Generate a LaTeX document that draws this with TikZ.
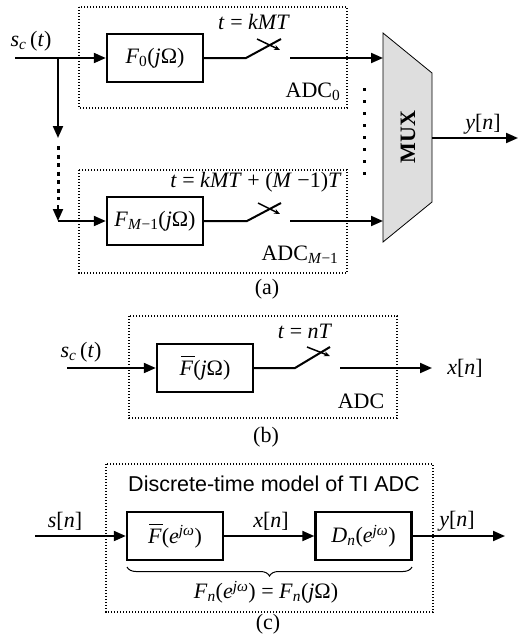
\documentclass[tikz,border=0pt]{standalone}
\usepackage{fontspec}
\setmainfont{Liberation Serif}
\newfontfamily\titlesans{Liberation Sans}
\usetikzlibrary{arrows.meta,decorations.pathreplacing}

% italic symbols and indices set in the text face
\newcommand\itx[1]{\textit{#1}}
\newcommand\lsub[1]{\textsubscript{#1}}
\newcommand\lsup[1]{\textsuperscript{#1}}
% F with a bar on top
\newcommand\barF{\makebox[0pt][l]{\hspace{0.06em}\raisebox{0.8em}{\rule{0.62em}{0.05em}}}\textit{F}}

\tikzset{
  blk/.style={draw, line width=2.4pt, minimum width=96pt, minimum height=48pt, inner sep=0pt},
  sig/.style={line width=2pt},
  arr/.style={line width=2pt, -{Triangle[length=12pt,width=10pt]}},
  dotbox/.style={line width=1.2pt, dash pattern=on 1.3pt off 1.7pt},
  bigdots/.style={line width=3pt, dash pattern=on 4pt off 4.5pt},
  crossmark/.style={line width=1.5pt, -{Stealth[length=6pt,width=5pt]}},
  lbl/.style={inner sep=0pt},
}

\begin{document}
\begin{tikzpicture}[x=1pt, y=-1pt, font=\fontsize{22}{26}\selectfont]
\useasboundingbox (0,0) rectangle (519,643);

% ---------------- (a) time-interleaved ADC ----------------
% dotted frames of the sub-converters
\draw[dotbox] (79,7) rectangle (347,108);
\draw[dotbox] (79,170) rectangle (347,273);

% filters
\node[blk] (f0) at (155,58) {\itx{F}\lsub{0}(\itx{j}Ω)};
\node[blk] (fm) at (155,221) {\itx{F}\lsub{\itx{M}−1}(\itx{j}Ω)};

% input and branching
\coordinate (in0) at (15,58);
\coordinate (br) at (58,58);
\coordinate (brdown) at (58,138);
\coordinate (dotend) at (58,200);
\coordinate (brlow) at (58,221);
\node[lbl] (sca) at (31,41) {\itx{s}\lsub{\itx{c}}\,(\itx{t})};
\draw[arr] (in0) -- (f0.west);
\draw[arr] (br) -- (brdown);
\draw[bigdots] (58,146) -- (dotend);
\draw[line width=2pt, -{Triangle[length=12pt,width=10pt]}] (58,205) -- (brlow);
\draw[arr] (brlow) -- (fm.west);

% sampling switch of ADC_0
\coordinate (s0a) at (246,58);
\coordinate (s0b) at (281,39);
\coordinate (s0c) at (257,39);
\coordinate (s0d) at (280,50);
\coordinate (s0o) at (290,58);
\draw[sig] (f0.east) -- (s0a) -- (s0b);
\draw[crossmark] (s0c) -- (s0d);
\node[lbl] (t0) at (254,22) {\itx{t} = \itx{kMT}};
\node[lbl] (adc0) at (313,92) {ADC\lsub{0}};

% sampling switch of ADC_{M-1}
\coordinate (sma) at (247,221);
\coordinate (smb) at (281,203);
\coordinate (smc) at (258,203);
\coordinate (smd) at (280,214);
\coordinate (smo) at (290,221);
\draw[sig] (fm.east) -- (sma) -- (smb);
\draw[crossmark] (smc) -- (smd);
\node[lbl] (tm) at (256,182) {\itx{t} = \itx{kMT} + (\itx{M} −1)\itx{T}};
\node[lbl] (adcm) at (300,255) {ADC\lsub{\itx{M}−1}};

% multiplexer
\draw[fill=black!13, line width=0.8pt] (383,33) -- (432,73) -- (432,202) -- (383,242) -- cycle;
\node[lbl, rotate=90, font=\fontsize{22}{26}\selectfont\bfseries] (mux) at (408,137) {MUX};
\coordinate (mux0) at (383,58);
\coordinate (muxm) at (383,221);
\coordinate (muxout) at (432,138);
\coordinate (yout) at (518,138);
\draw[arr] (s0o) -- (mux0);
\draw[arr] (smo) -- (muxm);
\draw[arr] (muxout) -- (yout);
\node[lbl] (ya) at (483,124) {\itx{y}[\itx{n}]};
\draw[bigdots, dash pattern=on 3pt off 9pt] (364,88) -- (364,182);

\node[lbl] (capa) at (267,289) {(a)};

% ---------------- (b) single ADC ----------------
\draw[dotbox] (129,316) rectangle (397,418);
\node[blk] (fb) at (205,368) {\barF(\itx{j}Ω)};
\coordinate (inb) at (67,368);
\node[lbl] (scb) at (81,352) {\itx{s}\lsub{\itx{c}}\,(\itx{t})};
\draw[arr] (inb) -- (fb.west);
\coordinate (sba) at (295,368);
\coordinate (sbb) at (330,347);
\coordinate (sbc) at (307,347);
\coordinate (sbd) at (330,356);
\coordinate (sbo) at (340,368);
\coordinate (xout) at (432,368);
\draw[sig] (fb.east) -- (sba) -- (sbb);
\draw[crossmark] (sbc) -- (sbd);
\draw[arr] (sbo) -- (xout);
\node[lbl] (tb) at (305,331) {\itx{t} = \itx{nT}};
\node[lbl] (xb) at (465,368) {\itx{x}[\itx{n}]};
\node[lbl] (adcb) at (361,401) {ADC};
\node[lbl] (capb) at (266,437) {(b)};

% ---------------- (c) discrete-time model ----------------
\draw[dotbox] (106,464) rectangle (433,612);
\node[lbl, font=\titlesans\fontsize{21.5}{25}\selectfont] (title) at (274,484) {Discrete-time model of TI ADC};
\node[blk] (fc) at (175,536) {\barF(\itx{e}\lsup{\itx{jω}})};
\node[blk] (dn) at (363.5,536) {\itx{D}\lsub{\itx{n}}(\itx{e}\lsup{\itx{jω}})};
\coordinate (inc) at (35,536);
\coordinate (yend) at (505,536);
\draw[arr] (inc) -- (fc.west);
\draw[arr] (fc.east) -- (dn.west);
\draw[arr] (dn.east) -- (yend);
\node[lbl] (sc) at (65,521) {\itx{s}[\itx{n}]};
\node[lbl] (xc) at (271,521) {\itx{x}[\itx{n}]};
\node[lbl] (yc) at (457,521) {\itx{y}[\itx{n}]};
\draw[line width=1pt, decorate, decoration={brace, mirror, amplitude=9pt}] (127,567) -- (412,567);
\node[lbl] (fn) at (266,592) {\itx{F}\lsub{\itx{n}}(\itx{e}\lsup{\itx{jω}}) = \itx{F}\lsub{\itx{n}}(\itx{j}Ω)};
\node[lbl] (capc) at (268,624) {(c)};
\end{tikzpicture}
\end{document}
